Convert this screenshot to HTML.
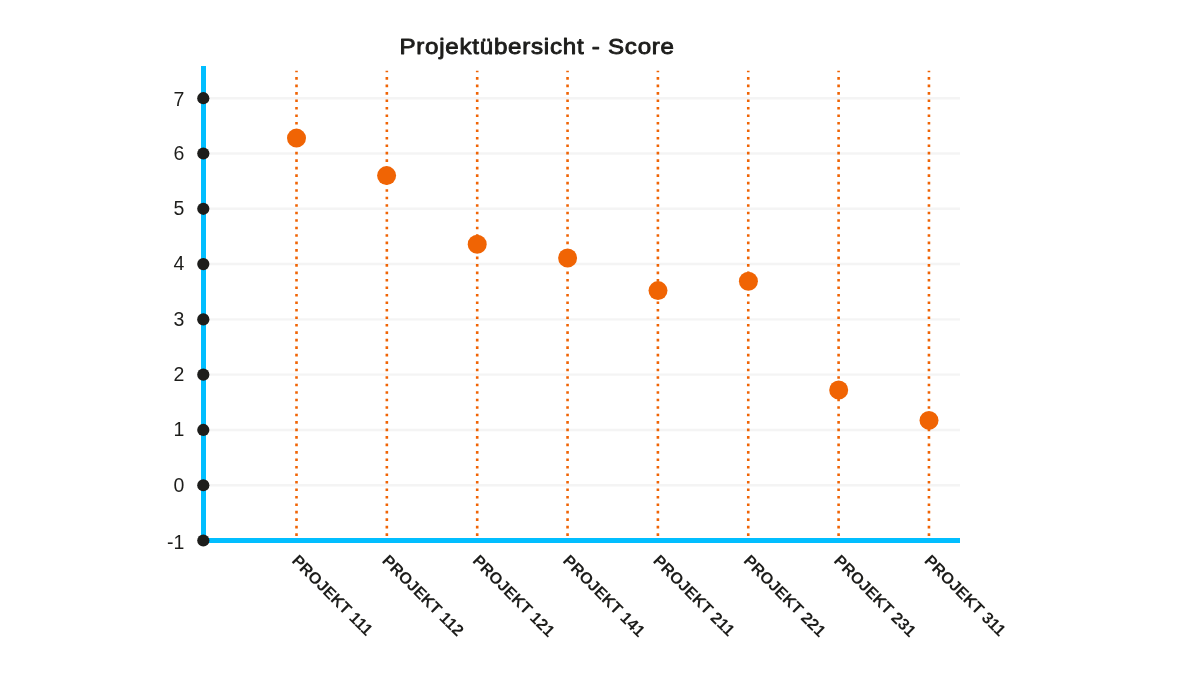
<!DOCTYPE html>
<html lang="de"><head><meta charset="utf-8"><title>Projektübersicht - Score</title>
<style>
html,body{margin:0;padding:0;background:#fff;}
body{width:1200px;height:675px;overflow:hidden;}
svg{display:block;}
text{font-family:"Liberation Sans",sans-serif;fill:#1d1d1b;}
.title{font-size:22.7px;letter-spacing:0.7px;stroke:#1d1d1b;stroke-width:0.9px;stroke-linejoin:round;}
.yl{font-size:19.5px;text-anchor:end;}
.xl{font-size:16.2px;font-weight:bold;}
</style></head><body>
<svg width="1200" height="675" viewBox="0 0 1200 675">
<rect width="1200" height="675" fill="#ffffff"/>
<g style="opacity:0.999">
<line x1="206" x2="960" y1="98.20" y2="98.20" stroke="#f4f4f4" stroke-width="2.4"/>
<line x1="206" x2="960" y1="153.49" y2="153.49" stroke="#f4f4f4" stroke-width="2.4"/>
<line x1="206" x2="960" y1="208.78" y2="208.78" stroke="#f4f4f4" stroke-width="2.4"/>
<line x1="206" x2="960" y1="264.07" y2="264.07" stroke="#f4f4f4" stroke-width="2.4"/>
<line x1="206" x2="960" y1="319.36" y2="319.36" stroke="#f4f4f4" stroke-width="2.4"/>
<line x1="206" x2="960" y1="374.65" y2="374.65" stroke="#f4f4f4" stroke-width="2.4"/>
<line x1="206" x2="960" y1="429.94" y2="429.94" stroke="#f4f4f4" stroke-width="2.4"/>
<line x1="206" x2="960" y1="485.23" y2="485.23" stroke="#f4f4f4" stroke-width="2.4"/>
<line x1="296.50" x2="296.50" y1="535.9" y2="70.8" stroke="#F06404" stroke-width="2.6" stroke-dasharray="2.6 4.879"/>
<line x1="386.85" x2="386.85" y1="535.9" y2="70.8" stroke="#F06404" stroke-width="2.6" stroke-dasharray="2.6 4.879"/>
<line x1="477.20" x2="477.20" y1="535.9" y2="70.8" stroke="#F06404" stroke-width="2.6" stroke-dasharray="2.6 4.879"/>
<line x1="567.55" x2="567.55" y1="535.9" y2="70.8" stroke="#F06404" stroke-width="2.6" stroke-dasharray="2.6 4.879"/>
<line x1="657.90" x2="657.90" y1="535.9" y2="70.8" stroke="#F06404" stroke-width="2.6" stroke-dasharray="2.6 4.879"/>
<line x1="748.25" x2="748.25" y1="535.9" y2="70.8" stroke="#F06404" stroke-width="2.6" stroke-dasharray="2.6 4.879"/>
<line x1="838.60" x2="838.60" y1="535.9" y2="70.8" stroke="#F06404" stroke-width="2.6" stroke-dasharray="2.6 4.879"/>
<line x1="928.95" x2="928.95" y1="535.9" y2="70.8" stroke="#F06404" stroke-width="2.6" stroke-dasharray="2.6 4.879"/>
<rect x="201" y="66" width="5" height="477" fill="#00BEFF"/>
<rect x="201" y="538" width="759" height="5" fill="#00BEFF"/>
<circle cx="203.3" cy="98.20" r="6.1" fill="#1d1d1b"/>
<text class="yl" x="184.3" y="106.30">7</text>
<circle cx="203.3" cy="153.49" r="6.1" fill="#1d1d1b"/>
<text class="yl" x="184.3" y="159.79">6</text>
<circle cx="203.3" cy="208.78" r="6.1" fill="#1d1d1b"/>
<text class="yl" x="184.3" y="215.38">5</text>
<circle cx="203.3" cy="264.07" r="6.1" fill="#1d1d1b"/>
<text class="yl" x="184.3" y="270.37">4</text>
<circle cx="203.3" cy="319.36" r="6.1" fill="#1d1d1b"/>
<text class="yl" x="184.3" y="326.16">3</text>
<circle cx="203.3" cy="374.65" r="6.1" fill="#1d1d1b"/>
<text class="yl" x="184.3" y="381.05">2</text>
<circle cx="203.3" cy="429.94" r="6.1" fill="#1d1d1b"/>
<text class="yl" x="184.3" y="436.34">1</text>
<circle cx="203.3" cy="485.23" r="6.1" fill="#1d1d1b"/>
<text class="yl" x="184.3" y="491.73">0</text>
<circle cx="203.3" cy="540.52" r="6.1" fill="#1d1d1b"/>
<text class="yl" x="184.3" y="548.97">-1</text>
<circle cx="296.5" cy="138.1" r="9.5" fill="#F06404"/>
<circle cx="386.6" cy="175.6" r="9.5" fill="#F06404"/>
<circle cx="477.2" cy="244.3" r="9.5" fill="#F06404"/>
<circle cx="567.6" cy="258.0" r="9.5" fill="#F06404"/>
<circle cx="658.0" cy="290.6" r="9.5" fill="#F06404"/>
<circle cx="748.4" cy="281.2" r="9.5" fill="#F06404"/>
<circle cx="838.7" cy="390.0" r="9.5" fill="#F06404"/>
<circle cx="929.0" cy="420.4" r="9.5" fill="#F06404"/>
<text class="xl" transform="translate(296.40,558.6) rotate(45)" x="-1.8" y="5.9">PROJEKT 111</text>
<text class="xl" transform="translate(386.75,558.6) rotate(45)" x="-1.8" y="5.9">PROJEKT 112</text>
<text class="xl" transform="translate(477.10,558.6) rotate(45)" x="-1.8" y="5.9">PROJEKT 121</text>
<text class="xl" transform="translate(567.45,558.6) rotate(45)" x="-1.8" y="5.9">PROJEKT 141</text>
<text class="xl" transform="translate(657.80,558.6) rotate(45)" x="-1.8" y="5.9">PROJEKT 211</text>
<text class="xl" transform="translate(748.15,558.6) rotate(45)" x="-1.8" y="5.9">PROJEKT 221</text>
<text class="xl" transform="translate(838.50,558.6) rotate(45)" x="-1.8" y="5.9">PROJEKT 231</text>
<text class="xl" transform="translate(928.85,558.6) rotate(45)" x="-1.8" y="5.9">PROJEKT 311</text>
<text class="title" x="399.4" y="54.4" textLength="275.4" lengthAdjust="spacingAndGlyphs">Projektübersicht - Score</text>
</g>
</svg></body></html>
